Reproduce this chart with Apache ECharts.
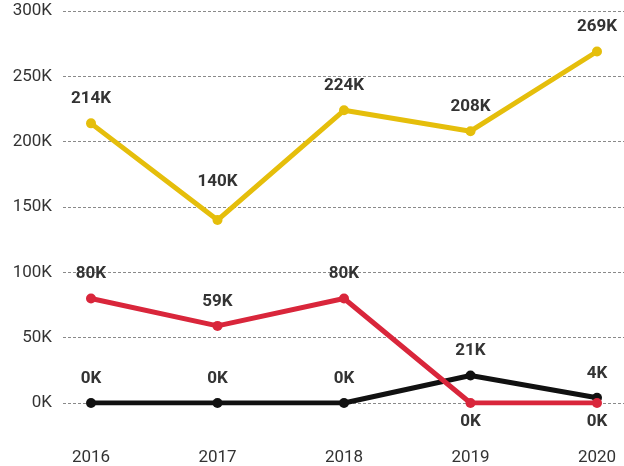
<!DOCTYPE html>
<html>
<head>
<meta charset="utf-8">
<script src="https://cdn.jsdelivr.net/npm/echarts@6/dist/echarts.min.js"></script>
<style>
  html, body { margin: 0; padding: 0; background: #fff; }
  #chart { width: 624px; height: 466px; }
</style>
</head>
<body>
<div id="chart"></div>
<script>
// data
const years = ['2016', '2017', '2018', '2019', '2020']
const yTicks = [0, 50000, 100000, 150000, 200000, 250000, 300000]
const goldValues = [214000, 140000, 224000, 208000, 269000]
const redValues = [80000, 59000, 80000, 0, 0]
const blackValues = [0, 0, 0, 21000, 4000]

const fmtK = v => Math.round(v / 1000) + 'K'

const labelStyle = {
  show: true,
  position: 'top',
  distance: 11,
  color: '#333',
  fontFamily: 'Roboto',
  fontWeight: 'bold',
  fontSize: 17,
  formatter: p => fmtK(p.value)
}

function lineSeries(name, values, color, data) {
  return {
    name: name,
    type: 'line',
    xAxisIndex: 1,
    yAxisIndex: 1,
    data: data || values,
    symbol: 'circle',
    symbolSize: 10,
    lineStyle: { color: color, width: 5 },
    itemStyle: { color: color },
    label: labelStyle
  }
}

const chart = echarts.init(document.getElementById('chart'))

chart.setOption({
  animation: false,
  grid: [
    { left: 63, right: 0, top: 11, bottom: 63 },
    { left: 91, right: 27, top: 11, bottom: 63 }
  ],
  xAxis: [
    { gridIndex: 0, type: 'category', data: years, show: false },
    {
      gridIndex: 1,
      type: 'category',
      data: years,
      boundaryGap: false,
      axisLine: { show: false },
      axisTick: { show: false },
      axisLabel: { color: '#333', fontFamily: 'Roboto', fontSize: 17, margin: 46 }
    }
  ],
  yAxis: [
    {
      gridIndex: 0,
      type: 'value',
      min: yTicks[0],
      max: yTicks[yTicks.length - 1],
      interval: yTicks[1] - yTicks[0],
      axisLine: { show: false },
      axisTick: { show: false },
      axisLabel: { color: '#333', fontFamily: 'Roboto', fontSize: 17, margin: 11, formatter: fmtK },
      splitLine: { lineStyle: { color: '#8a8a8a', type: [3, 2], width: 1 } }
    },
    {
      gridIndex: 1,
      type: 'value',
      min: yTicks[0],
      max: yTicks[yTicks.length - 1],
      show: false,
      splitLine: { show: false }
    }
  ],
  series: [
    lineSeries('black', blackValues, '#111111'),
    lineSeries('red', redValues, '#d9263b', redValues.map(v => v === 0
      ? { value: v, label: { position: 'bottom', distance: 5 } }
      : v)),
    lineSeries('gold', goldValues, '#e5be0b', goldValues.map((v, i) => i === 1
      ? { value: v, label: { distance: 25 } }
      : v))
  ]
})
</script>
</body>
</html>
